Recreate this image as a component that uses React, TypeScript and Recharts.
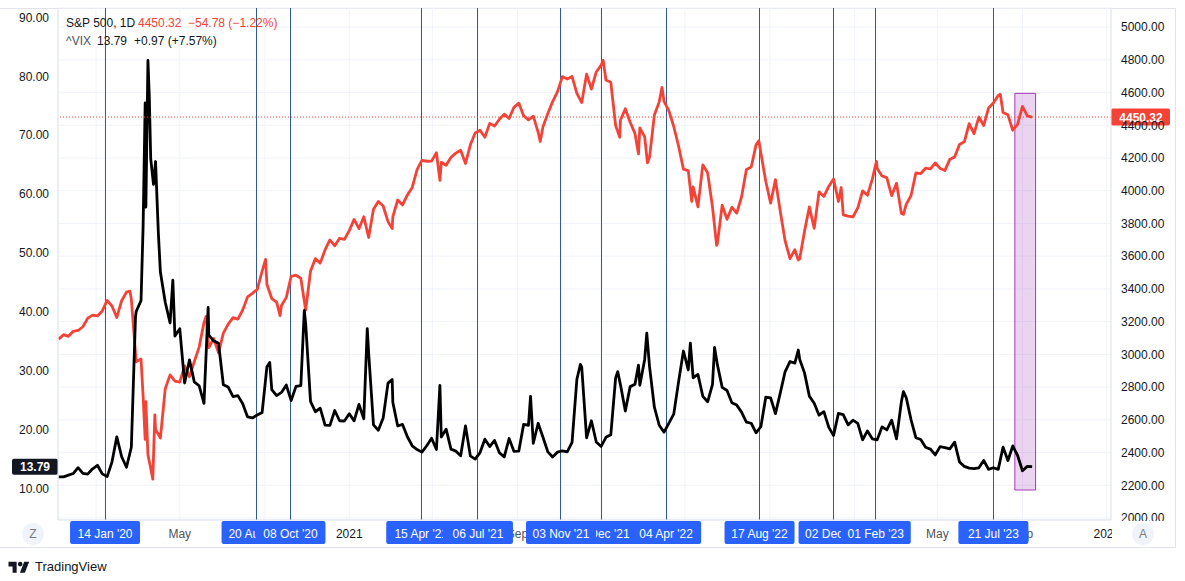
import React from 'react';
import { LineChart, Line, XAxis, YAxis, CartesianGrid, ReferenceLine, ReferenceArea } from 'recharts';

const FONT = '"Liberation Sans", Arial, sans-serif';
const DAY = 86400000;
const RED = '#F44336';

// weekly closes, one per week starting with this Friday
const firstWeek = '2019-11-08';

const spx2019 = [3093.08, 3120.46, 3110.29, 3140.98, 3145.91, 3168.8, 3221.22, 3240.02];
const spx2020 = [
  3234.85, 3265.35, 3329.62, 3295.47, 3225.52, 3327.71, 3380.16, 3337.75, 2954.22, 2972.37, 2711.02, 2304.92, 2541.47,
  2488.65, 2789.82, 2874.56, 2836.74, 2830.71, 2929.8, 2863.7, 2955.45, 3044.31, 3193.93, 3041.31, 3097.74, 3009.05,
  3130.01, 3185.04, 3224.73, 3215.63, 3271.12, 3351.28, 3372.85, 3397.16, 3508.01, 3426.96, 3340.97, 3319.47, 3298.46,
  3348.44, 3477.14, 3483.81, 3465.39, 3269.96, 3509.44, 3585.15, 3557.54, 3638.35, 3699.12, 3663.46, 3709.41, 3703.06,
  3756.07,
];
const spx2021 = [
  3824.68, 3768.25, 3841.47, 3714.24, 3886.83, 3934.83, 3906.71, 3811.15, 3841.94, 3943.34, 3913.1, 3974.54, 4019.87,
  4128.8, 4185.47, 4180.17, 4181.17, 4232.6, 4173.85, 4155.86, 4204.11, 4229.89, 4247.44, 4166.45, 4280.7, 4352.34,
  4369.55, 4327.16, 4411.79, 4395.26, 4436.52, 4468.0, 4441.67, 4509.37, 4535.43, 4458.58, 4432.99, 4455.48, 4357.04,
  4391.34, 4471.37, 4544.9, 4605.38, 4697.53, 4682.85, 4697.96, 4594.62, 4538.43, 4712.02, 4620.64, 4725.79, 4766.18,
];
const spx2022 = [
  4677.03, 4662.85, 4397.94, 4431.85, 4500.53, 4418.64, 4348.87, 4384.65, 4328.87, 4204.31, 4463.12, 4543.06, 4545.86,
  4488.28, 4392.59, 4271.78, 4131.93, 4123.34, 4023.89, 3901.36, 4158.24, 4108.54, 3900.86, 3674.84, 3911.74, 3825.33,
  3899.38, 3863.16, 3961.63, 4130.29, 4145.19, 4280.15, 4228.48, 4057.66, 3924.26, 4067.36, 3873.33, 3693.23, 3585.62,
  3639.66, 3583.07, 3752.75, 3901.06, 3770.55, 3992.93, 3965.34, 4026.12, 4071.7, 3934.38, 3852.36, 3844.82, 3839.5,
];
const spx2023 = [
  3895.08, 3999.09, 3972.61, 4070.56, 4136.48, 4090.46, 4079.09, 3970.04, 4045.64, 3861.59, 3916.64, 3970.99, 4109.31,
  4105.02, 4137.64, 4133.52, 4169.48, 4136.25, 4124.08, 4191.98, 4205.45, 4282.37, 4298.86, 4409.59, 4348.33, 4450.38,
  4398.95, 4505.42, 4536.34, 4582.23, 4478.03, 4464.05, 4369.71, 4405.71, 4515.77, 4457.49, 4450.32,
];

const vix2019 = [12.07, 12.05, 12.34, 12.62, 13.62, 12.63, 12.51, 13.43];
const vix2020 = [
  14.02, 12.56, 12.1, 14.56, 18.84, 15.47, 13.68, 17.08, 40.11, 41.94, 57.83, 66.04, 65.54, 46.8, 41.67, 38.15, 35.93,
  37.19, 27.98, 31.89, 28.16, 27.51, 24.52, 36.09, 35.12, 34.73, 27.68, 27.29, 25.68, 25.84, 24.46, 22.21, 22.05, 22.54,
  22.96, 30.75, 26.87, 25.83, 26.38, 27.63, 25.0, 27.41, 27.55, 38.02, 24.86, 23.1, 23.7, 20.84, 20.79, 23.31, 21.57,
  21.53, 22.75,
];
const vix2021 = [
  21.56, 24.34, 21.91, 33.09, 20.87, 19.97, 22.05, 27.95, 24.66, 20.69, 20.95, 18.86, 17.33, 16.69, 16.25, 17.33, 18.61,
  16.69, 18.81, 20.15, 16.76, 16.42, 15.65, 20.7, 15.62, 15.07, 16.18, 18.45, 17.2, 18.24, 16.15, 15.45, 18.56, 16.39,
  16.41, 20.95, 20.81, 17.75, 21.15, 18.77, 16.3, 15.43, 16.26, 16.48, 16.29, 17.91, 28.62, 30.67, 18.69, 21.57, 17.96,
  17.22,
];
const vix2022 = [
  18.76, 19.19, 28.85, 27.66, 23.22, 27.36, 27.75, 27.59, 31.98, 30.75, 23.87, 20.81, 19.63, 21.16, 22.7, 28.21, 33.4,
  30.19, 28.87, 29.43, 25.72, 24.79, 27.75, 31.13, 27.23, 26.7, 24.64, 24.23, 23.03, 21.33, 21.15, 19.53, 20.6, 25.56,
  25.47, 22.79, 26.3, 29.92, 31.62, 31.36, 32.02, 29.69, 25.75, 24.55, 22.52, 23.12, 20.5, 19.06, 22.83, 22.62, 20.87,
  21.67,
];
const vix2023 = [
  21.13, 18.35, 19.85, 18.51, 18.33, 20.53, 20.02, 21.67, 18.49, 24.8, 25.51, 21.74, 18.7, 18.4, 17.07, 16.77, 15.78,
  17.19, 17.03, 16.81, 17.95, 14.6, 13.83, 13.54, 13.44, 13.59, 14.83, 13.34, 13.6, 13.33, 17.1, 14.84, 17.3, 15.68,
  13.09, 13.84, 13.79,
];

// intra-week highs / lows that the weekly closes miss
const spxDaily: [string, number][] = [
  ['2020-02-19', 3386.15], ['2020-03-09', 2746.56], ['2020-03-12', 2480.64], ['2020-03-16', 2386.13],
  ['2020-03-23', 2237.4], ['2020-03-26', 2630.07], ['2020-06-08', 3232.39], ['2020-09-02', 3580.84],
  ['2020-09-23', 3236.92], ['2021-01-27', 3750.77], ['2021-03-04', 3768.47], ['2021-05-12', 4063.04],
  ['2021-10-04', 4300.46], ['2022-01-03', 4796.56], ['2022-01-27', 4326.51], ['2022-02-23', 4225.5],
  ['2022-03-08', 4170.7], ['2022-03-29', 4631.6], ['2022-05-11', 3935.18], ['2022-06-16', 3666.77],
  ['2022-08-16', 4305.2], ['2022-10-12', 3577.03], ['2022-12-13', 4019.65], ['2023-02-02', 4179.76],
  ['2023-03-13', 3855.76], ['2023-07-31', 4588.96],
];
const vixDaily: [string, number][] = [
  ['2020-02-27', 39.16], ['2020-03-09', 54.46], ['2020-03-12', 75.47], ['2020-03-16', 82.69], ['2020-03-18', 76.45],
  ['2020-03-24', 61.67], ['2020-03-31', 53.54], ['2020-04-21', 45.41], ['2020-06-11', 40.79], ['2020-09-08', 31.46],
  ['2020-10-28', 40.28], ['2021-01-27', 37.21], ['2021-03-04', 28.57], ['2021-05-12', 27.59], ['2021-09-20', 25.71],
  ['2021-12-01', 31.12], ['2022-01-24', 29.9], ['2022-02-23', 31.02], ['2022-03-07', 36.45], ['2022-05-09', 34.75],
  ['2022-06-13', 34.02], ['2022-10-12', 33.57], ['2023-03-13', 26.52],
];

const monthDates = [
  '2020-01-01', '2020-05-01', '2020-09-01', '2021-01-01', '2021-05-01', '2021-09-01', '2022-01-01',
  '2022-05-01', '2022-09-01', '2023-01-01', '2023-05-01', '2023-09-01', '2024-01-01',
];
const monthLabels = ['2020', 'May', 'Sep', '2021', 'May', 'Sep', '2022', 'May', 'Sep', '2023', 'May', 'Sep', '2024'];

// drawn in this order, later ones on top
const markerDates = [
  '2020-01-14', '2020-08-20', '2020-10-08', '2021-04-15', '2021-07-06', '2021-12-31', '2021-11-03',
  '2022-04-04', '2022-08-17', '2022-12-02', '2023-02-01', '2023-07-21',
];
const markerLabels = [
  "14 Jan '20", "20 Aug '20", "08 Oct '20", "15 Apr '21", "06 Jul '21", "31 Dec '21", "03 Nov '21",
  "04 Apr '22", "17 Aug '22", "02 Dec '22", "01 Feb '23", "21 Jul '23",
];

const vixTicks = [10, 20, 30, 40, 50, 60, 70, 80, 90];
const spxTicks = [2000, 2200, 2400, 2600, 2800, 3000, 3200, 3400, 3600, 3800, 4000, 4200, 4400, 4600, 4800, 5000];

const lastSpx = 4450.32;
const lastVix = 13.79;
const boxDates = ['2023-08-21', '2023-09-20'];
const boxPrices = [2171, 4595];

const ts = (d: string) => Date.parse(d);

function buildSeries(weekly: number[], daily: [string, number][]) {
  const pts = weekly.map((v, i) => ({ t: ts(firstWeek) + i * 7 * DAY, v }));
  daily.forEach(([d, v]) => pts.push({ t: ts(d), v }));
  return pts.sort((a, b) => a.t - b.t);
}

const spxData = buildSeries([...spx2019, ...spx2020, ...spx2021, ...spx2022, ...spx2023], spxDaily);
const vixData = buildSeries([...vix2019, ...vix2020, ...vix2021, ...vix2022, ...vix2023], vixDaily);

const markerTimes = markerDates.map(ts);
const monthMap = new Map(monthDates.map((d, i) => [ts(d), monthLabels[i]]));
const markerMap = new Map(markerDates.map((d, i) => [ts(d), markerLabels[i]]));
const xTicks = [...monthDates.map(ts), ...markerTimes];

// month labels that sit right under a date tag are hidden, as in the app
const coveredByMarker = (t: number) => markerTimes.some((m) => Math.abs(m - t) < 40 * DAY);

function TimeTick(props: any) {
  const { x, y, payload } = props;
  const marker = markerMap.get(payload.value);
  if (marker) {
    return (
      <g>
        <rect x={x - 35} y={y + 1} width={70} height={23} fill="#2962FF" rx={2} />
        <text x={x} y={y + 17.5} textAnchor="middle" fill="#ffffff" fontSize={12}>
          {marker}
        </text>
      </g>
    );
  }
  if (coveredByMarker(payload.value)) return <g />;
  const label = monthMap.get(payload.value) || '';
  const isYear = /^\d{4}$/.test(label);
  return (
    <text x={x} y={y + 18} textAnchor="middle" fill={isYear ? '#131722' : '#50535E'} fontSize={12}>
      {label}
    </text>
  );
}

function SpxTag({ viewBox }: any) {
  const x = viewBox.x + viewBox.width;
  return (
    <g>
      <rect x={x} y={viewBox.y - 8.5} width={59} height={17} fill={RED} rx={2} />
      <text x={x + 30} y={viewBox.y + 4.5} textAnchor="middle" fill="#fff" fontSize={12} fontWeight={600}>
        {lastSpx.toFixed(2)}
      </text>
    </g>
  );
}

function VixTag({ viewBox }: any) {
  return (
    <g>
      <rect x={viewBox.x - 46} y={viewBox.y - 8} width={46} height={16} fill="#131722" rx={2} />
      <text x={viewBox.x - 23} y={viewBox.y + 4.5} textAnchor="middle" fill="#fff" fontSize={12} fontWeight={600}>
        {lastVix.toFixed(2)}
      </text>
    </g>
  );
}

const legendRow: React.CSSProperties = { position: 'absolute', fontSize: 12, whiteSpace: 'nowrap', lineHeight: '14px' };

export default function App() {
  return (
    <div style={{ position: 'absolute', left: 0, top: 0, width: 1185, height: 581, background: '#fff', fontFamily: FONT }}>
      <div
        style={{
          position: 'absolute', left: 0, top: 8, width: 1175, height: 538,
          borderTop: '1px solid #E0E3EB', borderRight: '1px solid #E0E3EB', borderBottom: '1px solid #E0E3EB',
        }}
      />
      <LineChart
        width={1185}
        height={581}
        margin={{ top: 8, right: 10, bottom: 34, left: 0 }}
        style={{ position: 'absolute', left: 0, top: 0, fontFamily: FONT }}
      >
        <CartesianGrid yAxisId="right" stroke="#F0F3FA" strokeWidth={1} />
        <XAxis
          dataKey="t"
          type="number"
          domain={[ts('2019-11-07'), ts('2024-01-07')]}
          allowDataOverflow
          ticks={xTicks}
          interval={0}
          tick={<TimeTick />}
          tickLine={false}
          tickSize={0}
          tickMargin={0}
          height={27}
          stroke="#E0E3EB"
        />
        <YAxis
          yAxisId="left"
          orientation="left"
          width={58}
          domain={[4.74, 91.58]}
          allowDataOverflow
          ticks={vixTicks}
          interval={0}
          tickFormatter={(v: number) => v.toFixed(2)}
          tick={{ fill: '#131722', fontSize: 12 }}
          tickLine={false}
          tickSize={0}
          tickMargin={9}
          stroke="#E0E3EB"
        />
        <YAxis
          yAxisId="right"
          orientation="right"
          width={64}
          domain={[1987.8, 5116.7]}
          allowDataOverflow
          ticks={spxTicks}
          interval={0}
          tickFormatter={(v: number) => v.toFixed(2)}
          tick={{ fill: '#131722', fontSize: 12, textAnchor: 'start' }}
          tickLine={false}
          tickSize={0}
          tickMargin={10}
          stroke="#E0E3EB"
        />
        {markerDates.map((d) => (
          <ReferenceLine
            key={d}
            x={ts(d)}
            yAxisId="left"
            stroke="#2E5A9C"
            strokeWidth={1}
            shapeRendering="crispEdges"
          />
        ))}
        <Line
          data={spxData}
          yAxisId="right"
          dataKey="v"
          stroke={RED}
          strokeWidth={2.8}
          dot={false}
          strokeLinejoin="round"
          isAnimationActive={false}
        />
        <Line
          data={vixData}
          yAxisId="left"
          dataKey="v"
          stroke="#000000"
          strokeWidth={2.8}
          dot={false}
          strokeLinejoin="round"
          isAnimationActive={false}
        />
        <ReferenceArea
          yAxisId="right"
          x1={ts(boxDates[0])}
          x2={ts(boxDates[1])}
          y1={boxPrices[0]}
          y2={boxPrices[1]}
          fill="#9C27B0"
          fillOpacity={0.2}
          stroke="#9C27B0"
          strokeOpacity={0.9}
          strokeWidth={1}
        />
        <ReferenceLine
          yAxisId="right"
          y={lastSpx}
          stroke={RED}
          strokeDasharray="1 2"
          strokeWidth={1}
          label={(p: any) => <SpxTag viewBox={p.viewBox} />}
        />
        <ReferenceLine
          yAxisId="left"
          y={lastVix}
          stroke="#000"
          strokeOpacity={0}
          label={(p: any) => <VixTag viewBox={p.viewBox} />}
        />
      </LineChart>

      <div style={{ ...legendRow, left: 66, top: 16, color: '#131722' }}>S&amp;P 500, 1D</div>
      <div style={{ ...legendRow, left: 138, top: 16, color: RED }}>4450.32</div>
      <div style={{ ...legendRow, left: 188, top: 16, color: RED }}>−54.78 (−1.22%)</div>
      <div style={{ ...legendRow, left: 66, top: 34, color: '#50535E' }}>^VIX</div>
      <div style={{ ...legendRow, left: 97, top: 34, color: '#131722' }}>13.79</div>
      <div style={{ ...legendRow, left: 134, top: 34, color: '#131722' }}>+0.97 (+7.57%)</div>

      <div
        style={{
          position: 'absolute', left: 22, top: 523, width: 22, height: 22, borderRadius: 11,
          background: '#F0F3FA', color: '#787B86', fontSize: 12, textAlign: 'center', lineHeight: '22px',
        }}
      >
        Z
      </div>
      <div style={{ position: 'absolute', left: 1112, top: 521, width: 63, height: 25, background: '#fff' }} />
      <div
        style={{
          position: 'absolute', left: 1132, top: 523, width: 22, height: 22, borderRadius: 11,
          background: '#F0F3FA', color: '#787B86', fontSize: 12, textAlign: 'center', lineHeight: '22px',
        }}
      >
        A
      </div>

      <div style={{ position: 'absolute', left: 8, top: 559, display: 'flex', alignItems: 'center', gap: 5 }}>
        <svg width={22} height={14} viewBox="0 0 36 24">
          <path d="M14 22H7V11H0V3h14v19ZM28 22h-8.5L27 3h8.5L28 22Z" fill="#131722" />
          <circle cx={20} cy={7} r={4} fill="#131722" />
        </svg>
        <span style={{ fontSize: 13, color: '#131722' }}>TradingView</span>
      </div>
    </div>
  );
}
